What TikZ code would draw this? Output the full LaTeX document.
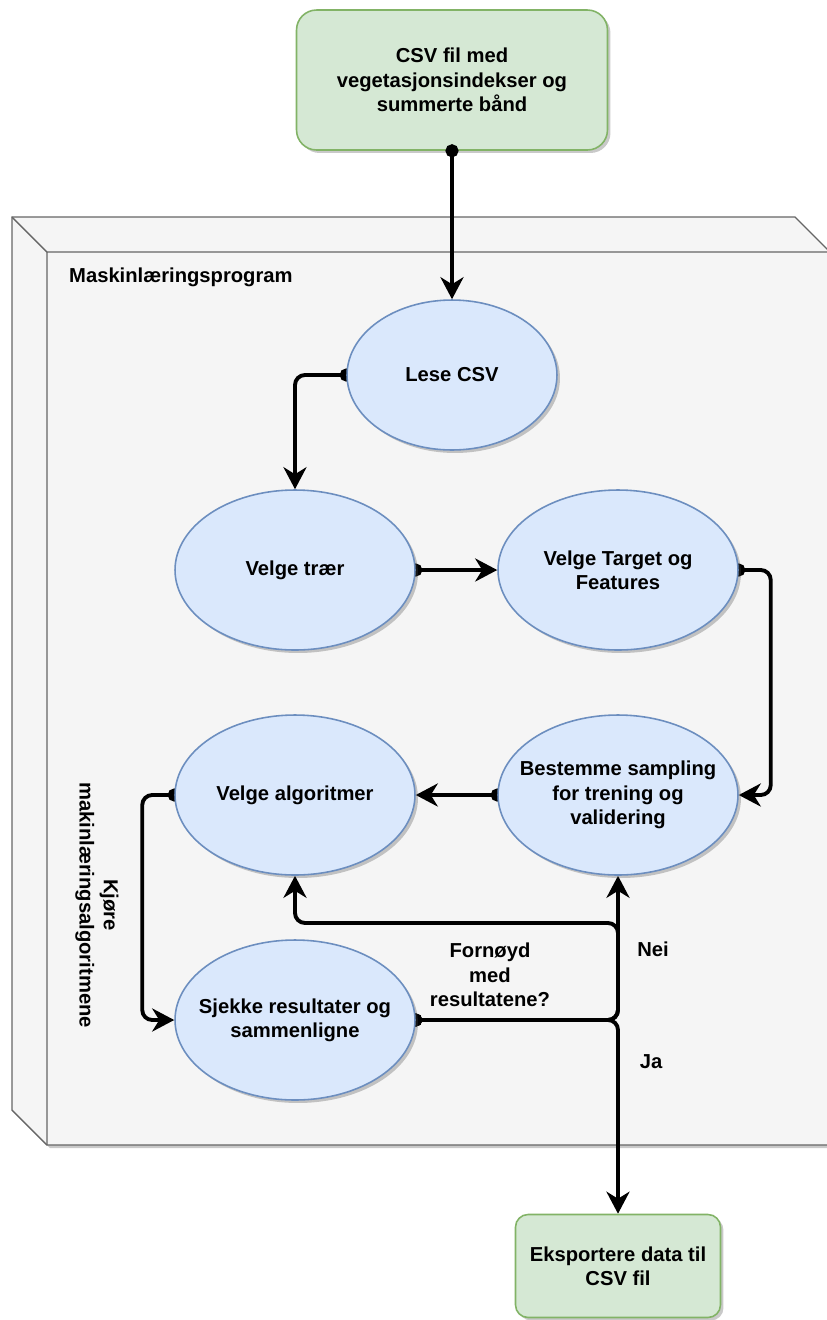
\documentclass[tikz,border=0pt]{standalone}
\usepackage{fontspec}
\setmainfont{Liberation Sans}
\usetikzlibrary{shapes.geometric,arrows.meta,shadows}
\definecolor{filegreen}{HTML}{D5E8D4}
\definecolor{filegreenline}{HTML}{82B366}
\definecolor{stepblue}{HTML}{DAE8FC}
\definecolor{stepblueline}{HTML}{6C8EBF}
\definecolor{cubegray}{HTML}{F5F5F5}
\definecolor{cubeline}{HTML}{666666}
\pgfdeclarelayer{back}
\pgfdeclarelayer{edges}
\pgfsetlayers{back,edges,main}

\begin{document}
\begin{tikzpicture}[x=0.02cm, y=-0.02cm,
  txt/.style={font=\fontsize{11.5}{13.8}\selectfont\bfseries, align=center},
  shade/.style={drop shadow={shadow xshift=0.06cm, shadow yshift=-0.06cm,
                opacity=0.3, fill=black!70}},
  file/.style={txt, draw=filegreenline, fill=filegreen, line width=0.9pt,
               rounded corners=0.4cm, inner sep=0pt, shade},
  stepnode/.style={txt, ellipse, draw=stepblueline, fill=stepblue, line width=0.9pt,
                   minimum width=4.8cm, minimum height=3.2cm,
                   inner xsep=-1cm, inner ysep=-0.6cm, shade},
  arr/.style={line width=2.2pt, rounded corners=0.2cm, shorten <=-0.13cm,
              {Circle[length=0.26cm]}-{Stealth[length=0.44cm, width=0.46cm, inset=0.14cm]}},
]
\useasboundingbox (0,0) rectangle (826,1320);
% Container (3D box)
\begin{pgfonlayer}{back}
\filldraw[fill=cubegray, draw=cubeline, line width=0.8pt, shade]
  (12,217) -- (795,217) -- (830,252) -- (830,1145) -- (47,1145) -- (12,1110) -- cycle;
\draw[cubeline, line width=0.8pt] (12,217) -- (47,252) -- (830,252) (47,252) -- (47,1145);
\end{pgfonlayer}
\node[txt, anchor=west] (maskin) at (63,277) {Maskinlæringsprogram};
% Input and output files
\node[file, minimum width=6.22cm, minimum height=2.8cm] (csvin) at (452,80)
  {CSV fil med\\vegetasjonsindekser og\\summerte bånd};
\node[file, rounded corners=0.25cm, minimum width=4.1cm, minimum height=2.06cm] (csvout)
  at (618,1266) {Eksportere data til\\CSV fil};
% Steps
\node[stepnode, minimum width=4.2cm, minimum height=3cm] (lese) at (452,375) {Lese CSV};
\node[stepnode] (traer) at (295,570) {Velge trær};
\node[stepnode] (target) at (618,570) {Velge Target og\\Features};
\node[stepnode] (algo) at (295,795) {Velge algoritmer};
\node[stepnode] (sampling) at (618,795) {Bestemme sampling\\for trening og\\validering};
\node[stepnode] (sjekke) at (295,1020) {Sjekke resultater og\\sammenligne};
% Labels
\node[txt, rotate=-90] (kjore) at (97,905) {Kjøre\\makinlæringsalgoritmene};
\node[txt] (fornoyd) at (490,975) {Fornøyd\\med\\resultatene?};
\node[txt] (nei) at (653,949) {Nei};
\node[txt] (ja) at (651,1062) {Ja};
\coordinate (split) at (618,923);
% Connectors
\draw[arr] (csvin.south) -- (lese.north);
\begin{pgfonlayer}{edges}
\draw[arr] (lese.west) -| (traer.north);
\draw[arr] (traer.east) -- (target.west);
\draw[arr] (target.east) -- ++(32,0) |- (sampling.east);
\draw[arr] (sampling.west) -- (algo.east);
\draw[arr] (algo.west) -- ++(-32,0) |- (sjekke.west);
\draw[arr] (sjekke.east) -| (sampling.south);
\draw[arr] (sjekke.east) -| (split) -| (algo.south);
\draw[arr] (sjekke.east) -| (csvout.north);
\end{pgfonlayer}
\end{tikzpicture}
\end{document}
